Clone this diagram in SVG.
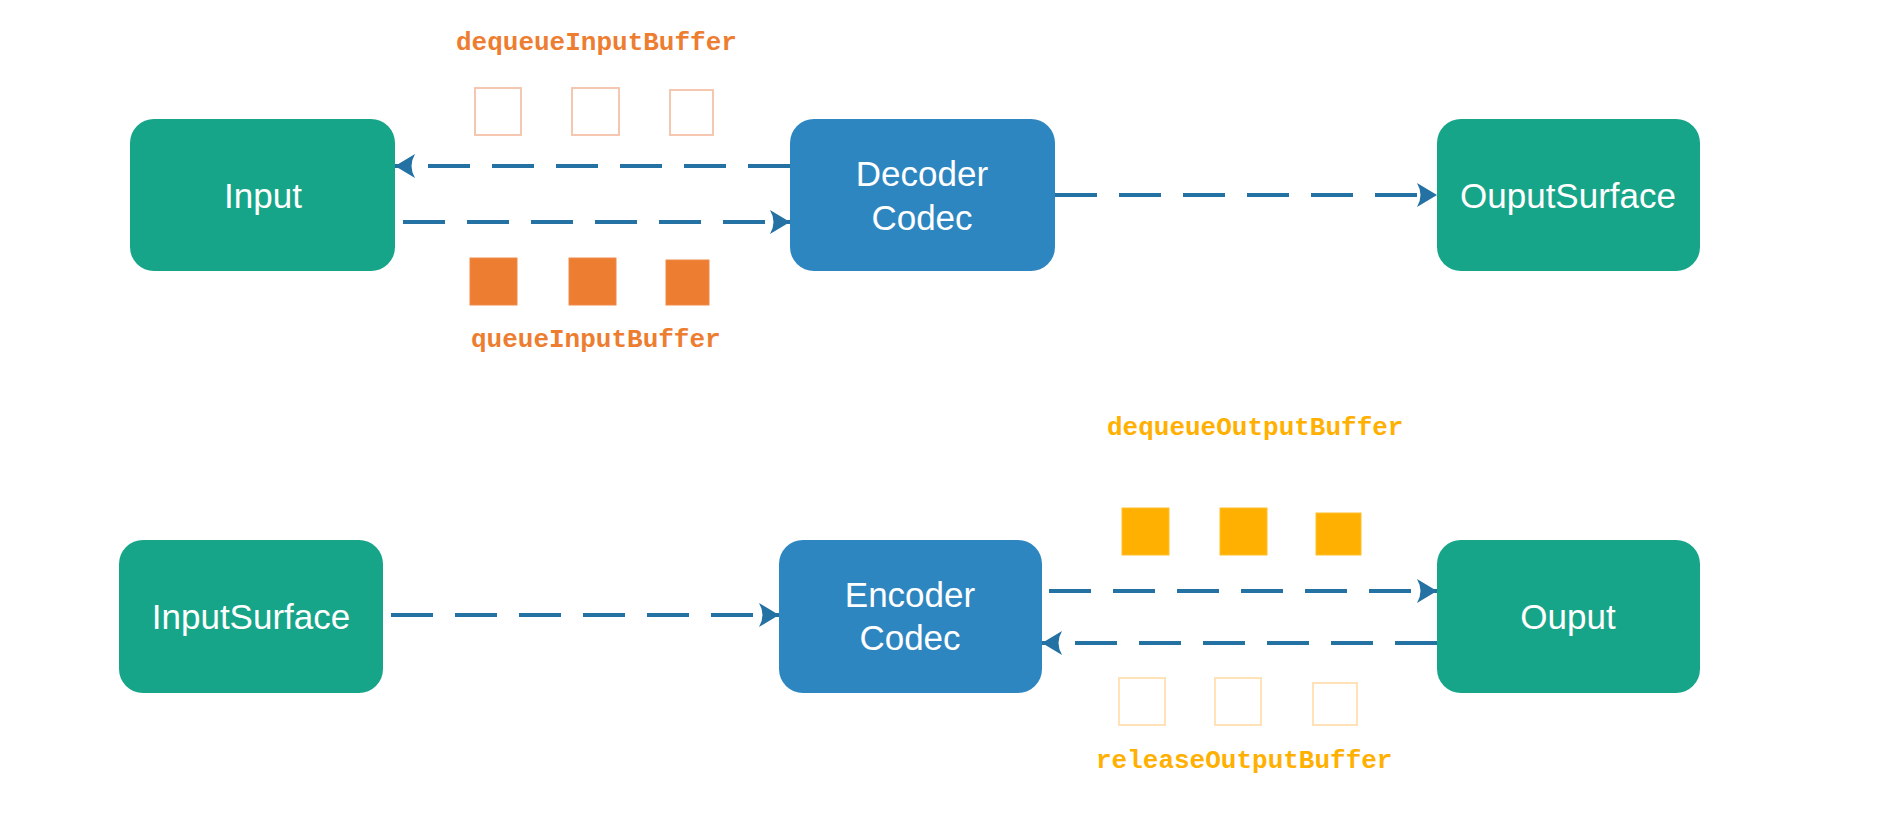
<svg xmlns="http://www.w3.org/2000/svg" width="1904" height="824" viewBox="0 0 1904 824">
<defs>
<style>
.green{fill:#17A589;}
.blue{fill:#2E86C1;}
.lbl{font-family:"Liberation Sans",Arial,sans-serif;font-size:35px;fill:#FFFFFF;text-anchor:middle;}
.conn{stroke:#2471A3;stroke-width:4;fill:none;stroke-dasharray:42 22;marker-end:url(#arr);}
.mono{font-family:"Liberation Mono","Courier New",monospace;font-size:26px;font-weight:bold;}
.otxt{fill:#ED7D31;}
.ytxt{fill:#FFB000;}
.ofill{fill:#ED7D31;stroke:#F08A4B;stroke-width:1;}
.oline{fill:#FFFFFF;stroke:#F6C7B0;stroke-width:2;}
.yfill{fill:#FFB000;stroke:#FFC02E;stroke-width:1;}
.yline{fill:#FFFFFF;stroke:#FFE2B8;stroke-width:2;}
</style>
<marker id="arr" viewBox="0 0 20 24" refX="20" refY="12" markerWidth="20" markerHeight="24" markerUnits="userSpaceOnUse" orient="auto">
<path d="M0,0 L20,12 L0,24 Q7,12 0,0 Z" fill="#2471A3"/>
</marker>
</defs>
<rect width="1904" height="824" fill="#FFFFFF"/>

<g id="connectors">
<line class="conn" x1="790" y1="166" x2="395" y2="166"/>
<line class="conn" x1="403" y1="222" x2="790" y2="222"/>
<line class="conn" x1="1055" y1="195" x2="1437" y2="195"/>
<line class="conn" x1="391" y1="615" x2="779" y2="615"/>
<line class="conn" x1="1049" y1="591" x2="1437" y2="591"/>
<line class="conn" x1="1437" y1="643" x2="1042" y2="643"/>
</g>

<g id="node-input">
<rect class="green" x="130" y="119" width="265" height="152" rx="24" ry="24"/>
<text class="lbl" x="263" y="208">Input</text>
</g>
<g id="node-decoder">
<rect class="blue" x="790" y="119" width="265" height="152" rx="24" ry="24"/>
<text class="lbl" x="922" y="186">Decoder</text>
<text class="lbl" x="922" y="230">Codec</text>
</g>
<g id="node-outputsurface">
<rect class="green" x="1437" y="119" width="263" height="152" rx="24" ry="24"/>
<text class="lbl" x="1568" y="208">OuputSurface</text>
</g>
<g id="node-inputsurface">
<rect class="green" x="119" y="540" width="264" height="153" rx="24" ry="24"/>
<text class="lbl" x="251" y="629">InputSurface</text>
</g>
<g id="node-encoder">
<rect class="blue" x="779" y="540" width="263" height="153" rx="24" ry="24"/>
<text class="lbl" x="910" y="607">Encoder</text>
<text class="lbl" x="910" y="650">Codec</text>
</g>
<g id="node-output">
<rect class="green" x="1437" y="540" width="263" height="153" rx="24" ry="24"/>
<text class="lbl" x="1568" y="629">Ouput</text>
</g>

<g id="dequeueInputBuffer">
<text class="mono otxt" x="456" y="50">dequeueInputBuffer</text>
<rect class="oline" x="475" y="88" width="46" height="47"/>
<rect class="oline" x="572" y="88" width="47" height="47"/>
<rect class="oline" x="670" y="90" width="43" height="45"/>
</g>
<g id="queueInputBuffer">
<rect class="ofill" x="470" y="258" width="47" height="47"/>
<rect class="ofill" x="569" y="258" width="47" height="47"/>
<rect class="ofill" x="666" y="260" width="43" height="45"/>
<text class="mono otxt" x="471" y="347">queueInputBuffer</text>
</g>
<g id="dequeueOutputBuffer">
<text class="mono ytxt" x="1107" y="435">dequeueOutputBuffer</text>
<rect class="yfill" x="1122" y="508" width="47" height="47"/>
<rect class="yfill" x="1220" y="508" width="47" height="47"/>
<rect class="yfill" x="1316" y="513" width="45" height="42"/>
</g>
<g id="releaseOutputBuffer">
<rect class="yline" x="1119" y="678" width="46" height="47"/>
<rect class="yline" x="1215" y="678" width="46" height="47"/>
<rect class="yline" x="1313" y="683" width="44" height="42"/>
<text class="mono ytxt" x="1096" y="768">releaseOutputBuffer</text>
</g>
</svg>
